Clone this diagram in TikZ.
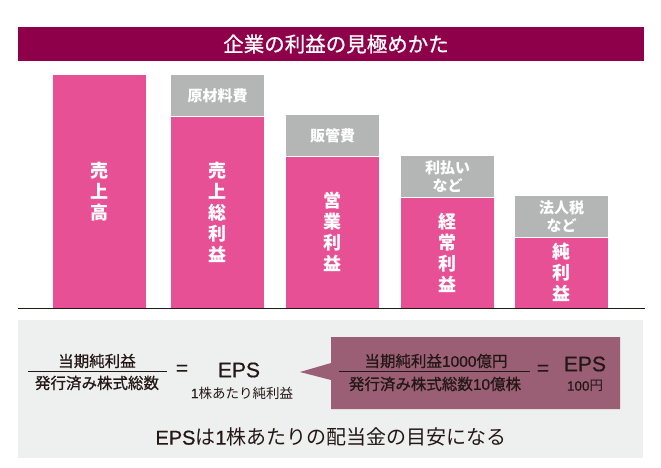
\documentclass[tikz,border=0pt]{standalone}
\usepackage{fontspec}
\setmainfont{Noto Sans CJK JP}
\newfontfamily\jpmed[FakeBold=0.8]{Noto Sans CJK JP}
\newfontfamily\latin[FakeBold=0.6]{Liberation Sans}
\usepackage{tikz}
\usetikzlibrary{positioning}
\definecolor{titlebar}{HTML}{8F004B}
\definecolor{barpink}{HTML}{E85096}
\definecolor{costgray}{HTML}{B4B5B5}
\definecolor{panelbg}{HTML}{EEEFEF}
\definecolor{callout}{HTML}{9A5F75}
\definecolor{inkdark}{HTML}{231815}
\newcommand{\px}[1]{\fontsize{#1}{#1}\selectfont}
\newcommand{\la}[1]{{\latin #1}}

\begin{document}
\begin{tikzpicture}[
  x=1pt, y=-1pt,
  pinkbar/.style={fill=barpink,text=white,minimum width=93pt,inner sep=0pt,anchor=south west,align=center,font=\bfseries\fontsize{18}{21}\selectfont},
  costbox/.style={fill=costgray,text=white,minimum width=93pt,minimum height=41.5pt,inner sep=0pt,align=center,font=\bfseries\fontsize{15}{18.5}\selectfont},
  frac/.style={text=inkdark,inner sep=0pt,font=\jpmed\px{15.5}},
  rule/.style={draw=inkdark,line width=0.8pt},
  eps/.style={text=inkdark,inner sep=0pt,font=\latin\px{21}},
  note/.style={text=inkdark,inner sep=0pt,font=\px{13.5}}
]
\useasboundingbox (0,0) rectangle (661,468);

% title
\fill[titlebar] (18,27) rectangle (644,61);
\node[text=white,font=\jpmed\px{20.5}] (title) at (336,44) {企業の利益の見極めかた};

% bars
\node[pinkbar,minimum height=233pt] (sales) at (53,308) {売\\上\\高};
\node[pinkbar,minimum height=191pt] (gross) at (171,308) {売\\上\\総\\利\\益};
\node[pinkbar,minimum height=151pt] (oper) at (286,308) {営\\業\\利\\益};
\node[pinkbar,minimum height=110pt] (ord) at (401,308) {経\\常\\利\\益};
\node[pinkbar,minimum height=70pt] (net) at (515,308) {純\\利\\益};
\node[costbox,above=0pt of gross] (material) {原材料費};
\node[costbox,above=0pt of oper] (sga) {販管費};
\node[costbox,above=0pt of ord] (interest) {利払い\\など};
\node[costbox,above=0pt of net] (tax) {法人税\\など};
\draw[inkdark,line width=0.8pt] (18,308) -- (645,308);

% EPS panel
\fill[panelbg] (18,320) rectangle (643,458);
\node[frac] (num) at (97,361) {当期純利益};
\node[frac] (den) at (97,383) {発行済み株式総数};
\draw[rule] (28,371) -- (167,371);
\node[eps] (eq) at (182,370) {=};
\node[eps] (epsA) at (239,370) {EPS};
\node[note] (epsnote) at (242,393) {\la{1}株あたり純利益};

\fill[callout] (300,372) -- (331,363) -- (331,337) -- (620,337)
  -- (620,409) -- (331,409) -- (331,380) -- cycle;
\node[frac] (numB) at (436,361) {当期純利益\la{1000}億円};
\node[frac] (denB) at (435,384) {発行済み株式総数\la{10}億株};
\draw[rule] (339,371) -- (530,371);
\node[eps] (eqB) at (543,370) {=};
\node[eps] (epsB) at (585,364) {EPS};
\node[note] (yen) at (585,386) {\la{100}円};

\node[text=inkdark,inner sep=0pt,font=\px{20}] (summary) at (331,437) {\la{EPS}は\la{1}株あたりの配当金の目安になる};
\end{tikzpicture}
\end{document}
